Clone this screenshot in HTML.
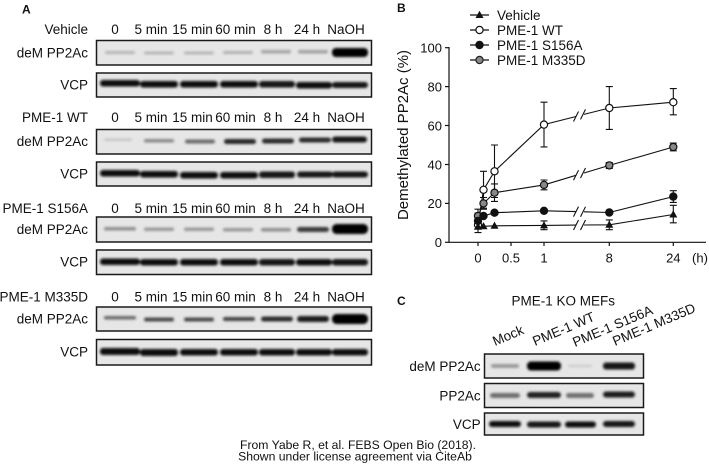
<!DOCTYPE html>
<html><head><meta charset="utf-8"><style>
html,body{margin:0;padding:0;background:#fff;}
svg{display:block;}
text{font-family:"Liberation Sans",Arial,sans-serif;fill:#111;}
</style></head><body>
<svg width="709" height="468" viewBox="0 0 709 468" xmlns="http://www.w3.org/2000/svg">
<defs>
<filter id="bl" x="-20%" y="-100%" width="140%" height="300%"><feGaussianBlur stdDeviation="1.2"/></filter>
</defs>
<rect width="709" height="468" fill="#fff"/>

<!-- Panel A -->
<text x="22" y="13.5" font-size="12" font-weight="bold">A</text>
<g font-size="13.5">
<g text-anchor="end">
<text x="88" y="34">Vehicle</text>
<text x="88" y="57.5">deM PP2Ac</text>
<text x="88" y="89.5">VCP</text>
<text x="88" y="122">PME-1 WT</text>
<text x="88" y="146">deM PP2Ac</text>
<text x="88" y="178.5">VCP</text>
<text x="88" y="213">PME-1 S156A</text>
<text x="88" y="234">deM PP2Ac</text>
<text x="88" y="266.5">VCP</text>
<text x="88" y="301.5">PME-1 M335D</text>
<text x="88" y="323.5">deM PP2Ac</text>
<text x="88" y="356.5">VCP</text>
</g>
<g text-anchor="middle">
<g id="tl">
<text x="115" y="34">0</text><text x="151" y="34">5 min</text><text x="192.5" y="34">15 min</text><text x="235.5" y="34">60 min</text><text x="273" y="34">8 h</text><text x="307" y="34">24 h</text><text x="346" y="34">NaOH</text>
</g>
<use href="#tl" y="88"/>
<use href="#tl" y="179"/>
<use href="#tl" y="267.5"/>
</g>
</g>

<!-- blot boxes A -->
<g fill="#e6e6e6" stroke="#1a1a1a" stroke-width="1.5">
<rect x="96.5" y="40.5" width="275" height="24.5"/>
<rect x="96.5" y="73" width="275" height="24"/>
<rect x="96.5" y="129.5" width="275" height="24.5"/>
<rect x="96.5" y="162" width="275" height="24"/>
<rect x="96.5" y="217" width="275" height="25"/>
<rect x="96.5" y="250" width="275" height="24.5"/>
<rect x="96.5" y="307" width="275" height="24"/>
<rect x="96.5" y="339.5" width="275" height="25.5"/>
</g>
<g filter="url(#bl)">
<!-- vehicle deM -->
<rect x="105" y="51" width="30" height="3" rx="1.5" fill="#b5b5b5"/>
<rect x="144" y="51.5" width="30" height="3" rx="1.5" fill="#b5b5b5"/>
<rect x="184" y="51.5" width="30" height="3" rx="1.5" fill="#b5b5b5"/>
<rect x="223" y="51" width="30" height="3" rx="1.5" fill="#b0b0b0"/>
<rect x="261" y="50" width="30" height="3.5" rx="1.5" fill="#a5a5a5"/>
<rect x="298" y="50" width="30" height="3.5" rx="1.5" fill="#a0a0a0"/>
<rect x="332" y="48" width="36" height="9" rx="4" fill="#060606"/>
<!-- VCP 1 -->
<rect x="100" y="80" width="40" height="6.5" rx="3" fill="#111"/>
<rect x="140" y="81" width="38" height="6.5" rx="3" fill="#111"/>
<rect x="180" y="81" width="38" height="6.5" rx="3" fill="#111"/>
<rect x="220" y="81" width="38" height="6.5" rx="3" fill="#111"/>
<rect x="259" y="81" width="36" height="6.5" rx="3" fill="#141414"/>
<rect x="296" y="82" width="36" height="6.5" rx="3" fill="#111"/>
<rect x="332" y="82" width="36" height="6" rx="3" fill="#151515"/>
<!-- WT deM -->
<rect x="104" y="138.5" width="28" height="2.5" rx="1.2" fill="#c5c5c5"/>
<rect x="144" y="139" width="30" height="3.5" rx="1.5" fill="#8a8a8a"/>
<rect x="185" y="139.5" width="30" height="4" rx="2" fill="#6a6a6a"/>
<rect x="224" y="139" width="32" height="5" rx="2.5" fill="#252525"/>
<rect x="262" y="138.5" width="32" height="5" rx="2.5" fill="#2a2a2a"/>
<rect x="299" y="137.5" width="32" height="5" rx="2.5" fill="#2a2a2a"/>
<rect x="332" y="136.5" width="35" height="6" rx="3" fill="#151515"/>
<!-- WT VCP -->
<rect x="100" y="170" width="40" height="6.5" rx="3" fill="#111"/>
<rect x="140" y="171" width="38" height="6.5" rx="3" fill="#111"/>
<rect x="180" y="172" width="38" height="6.5" rx="3" fill="#111"/>
<rect x="220" y="172" width="38" height="6.5" rx="3" fill="#111"/>
<rect x="259" y="171.5" width="36" height="6.5" rx="3" fill="#141414"/>
<rect x="297" y="171.5" width="36" height="6" rx="3" fill="#151515"/>
<rect x="332" y="171.5" width="36" height="6" rx="3" fill="#151515"/>
<!-- S156A deM -->
<rect x="104" y="227" width="32" height="3.5" rx="1.5" fill="#8f8f8f"/>
<rect x="144" y="227.5" width="30" height="3.5" rx="1.5" fill="#999"/>
<rect x="184" y="227.5" width="30" height="3.5" rx="1.5" fill="#999"/>
<rect x="223" y="228" width="30" height="3.5" rx="1.5" fill="#999"/>
<rect x="261" y="228" width="30" height="3.5" rx="1.5" fill="#8e8e8e"/>
<rect x="297" y="227" width="32" height="5" rx="2.5" fill="#3a3a3a"/>
<rect x="332" y="224" width="36" height="10" rx="4.5" fill="#050505"/>
<!-- S156A VCP -->
<rect x="100" y="258.5" width="40" height="6.5" rx="3" fill="#111"/>
<rect x="140" y="259" width="38" height="6.5" rx="3" fill="#111"/>
<rect x="180" y="259" width="38" height="6.5" rx="3" fill="#111"/>
<rect x="220" y="259" width="38" height="6.5" rx="3" fill="#111"/>
<rect x="259" y="259" width="36" height="6.5" rx="3" fill="#141414"/>
<rect x="296" y="259" width="36" height="6.5" rx="3" fill="#111"/>
<rect x="332" y="259" width="36" height="6.5" rx="3" fill="#141414"/>
<!-- M335D deM -->
<rect x="104" y="316" width="32" height="3.5" rx="1.5" fill="#6a6a6a"/>
<rect x="144" y="317.5" width="30" height="4" rx="2" fill="#4a4a4a"/>
<rect x="184" y="317.5" width="30" height="4" rx="2" fill="#4a4a4a"/>
<rect x="223" y="317" width="32" height="4" rx="2" fill="#444"/>
<rect x="261" y="316.5" width="32" height="5" rx="2.5" fill="#2e2e2e"/>
<rect x="297" y="316" width="32" height="6" rx="3" fill="#1c1c1c"/>
<rect x="332" y="314" width="36" height="10" rx="4.5" fill="#050505"/>
<!-- M335D VCP -->
<rect x="100" y="348" width="40" height="7" rx="3" fill="#0d0d0d"/>
<rect x="140" y="349" width="38" height="7" rx="3" fill="#111"/>
<rect x="180" y="349" width="38" height="6.5" rx="3" fill="#111"/>
<rect x="220" y="349" width="38" height="6.5" rx="3" fill="#111"/>
<rect x="259" y="349" width="36" height="6.5" rx="3" fill="#111"/>
<rect x="296" y="349" width="36" height="6.5" rx="3" fill="#111"/>
<rect x="332" y="349" width="36" height="6.5" rx="3" fill="#111"/>
</g>

<!-- Panel B -->
<text x="397" y="12" font-size="12" font-weight="bold">B</text>
<g stroke="#111" stroke-width="1.2" fill="none">
<line x1="449" y1="47" x2="449" y2="242.3"/>
<line x1="449" y1="242.3" x2="706" y2="242.3"/>
<line x1="445" y1="47.7" x2="449" y2="47.7"/>
<line x1="445" y1="86.6" x2="449" y2="86.6"/>
<line x1="445" y1="125.5" x2="449" y2="125.5"/>
<line x1="445" y1="164.5" x2="449" y2="164.5"/>
<line x1="445" y1="203.4" x2="449" y2="203.4"/>
<line x1="445" y1="242.3" x2="449" y2="242.3"/>
<line x1="478" y1="242.3" x2="478" y2="246"/>
<line x1="511" y1="242.3" x2="511" y2="246"/>
<line x1="544" y1="242.3" x2="544" y2="246"/>
<line x1="609.3" y1="242.3" x2="609.3" y2="246"/>
<line x1="673.3" y1="242.3" x2="673.3" y2="246"/>
</g>
<g font-size="13" text-anchor="end">
<text x="442" y="52.5">100</text>
<text x="442" y="91.4">80</text>
<text x="442" y="130.3">60</text>
<text x="442" y="169.3">40</text>
<text x="442" y="208.2">20</text>
<text x="442" y="247.1">0</text>
</g>
<g font-size="13" text-anchor="middle">
<text x="478" y="262.5">0</text>
<text x="511" y="262.5">0.5</text>
<text x="544" y="262.5">1</text>
<text x="609.3" y="262.5">8</text>
<text x="673.3" y="262.5">24</text>
<text x="700" y="262.5">(h)</text>
</g>
<text transform="translate(408,135) rotate(-90)" font-size="15" text-anchor="middle">Demethylated PP2Ac (%)</text>

<!-- legend -->
<g stroke="#111" stroke-width="1.2">
<line x1="470" y1="15" x2="489" y2="15"/>
<line x1="470" y1="30" x2="489" y2="30"/>
<line x1="470" y1="45" x2="489" y2="45"/>
<line x1="470" y1="60" x2="489" y2="60"/>
</g>
<polygon points="479.5,10.8 475.5,18 483.5,18" fill="#111"/>
<circle cx="479.5" cy="30" r="3.6" fill="#fff" stroke="#111" stroke-width="1.2"/>
<circle cx="479.5" cy="45" r="3.6" fill="#111" stroke="#111" stroke-width="1.2"/>
<circle cx="479.5" cy="60" r="3.6" fill="#888" stroke="#222" stroke-width="1.2"/>
<g font-size="13.5">
<text x="497" y="19.8">Vehicle</text>
<text x="497" y="34.8">PME-1 WT</text>
<text x="497" y="49.8">PME-1 S156A</text>
<text x="497" y="64.8">PME-1 M335D</text>
</g>

<!-- error bars -->
<g stroke="#111" stroke-width="1.1" fill="none">
<path d="M483.5,171.3V208.2M480,171.3h7M480,208.2h7"/>
<path d="M494.5,145V197.5M491,145h7M491,197.5h7"/>
<path d="M544,102.2V146.9M540.5,102.2h7M540.5,146.9h7"/>
<path d="M609.3,86.6V129.4M605.8,86.6h7M605.8,129.4h7"/>
<path d="M673.3,88.6V114.8M669.8,88.6h7M669.8,114.8h7"/>
<path d="M478,209.2V224.8M474.5,209.2h7M474.5,224.8h7"/>
<path d="M483.5,197.5V209.2M480,197.5h7M480,209.2h7"/>
<path d="M494.5,183.9V201.4M491,183.9h7M491,201.4h7"/>
<path d="M544,180V189.8M540.5,180h7M540.5,189.8h7"/>
<path d="M609.3,162.5V168.4M605.8,162.5h7M605.8,168.4h7"/>
<path d="M673.3,143.1V150.8M669.8,143.1h7M669.8,150.8h7"/>
<path d="M478,213.1V228.7M474.5,213.1h7M474.5,228.7h7"/>
<path d="M673.3,190.7V202.4M669.8,190.7h7M669.8,202.4h7"/>
<path d="M478,220.9V232.6M474.5,220.9h7M474.5,232.6h7"/>
<path d="M544,220.9V229.7M540.5,220.9h7M540.5,229.7h7"/>
<path d="M609.3,219.9V229.7M605.8,219.9h7M605.8,229.7h7"/>
<path d="M673.3,205.3V222.8M669.8,205.3h7M669.8,222.8h7"/>
</g>

<!-- lines -->
<g stroke="#111" stroke-width="1.1" fill="none">
<polyline points="478,226.7 483.5,226.3 494.5,225.8 544,225.4 576,225.1"/>
<polyline points="584,225 609.3,224.8 673.3,214.5"/>
<path d="M573.5,230L578.5,220M580.5,230L585.5,220"/>
<polyline points="478,220.9 483.5,216 494.5,212.7 544,210.8 576,211.6"/>
<polyline points="584,211.8 609.3,212.5 673.3,196.6"/>
<path d="M573.5,216.6L578.5,206.6M580.5,216.8L585.5,206.8"/>
<polyline points="478,216 483.5,203.4 494.5,192.7 544,184.9 576,175.3"/>
<polyline points="584,173 609.3,165.4 673.3,147"/>
<path d="M573.5,180.3L578.5,170.3M580.5,178L585.5,168"/>
<polyline points="478,224.8 483.5,189.8 494.5,171.3 544,124.6 576,116.5"/>
<polyline points="584,114.4 609.3,108 673.3,102.2"/>
<path d="M573.5,121.5L578.5,111.5M580.5,119.4L585.5,109.4"/>
</g>

<!-- markers -->
<g stroke="#111" stroke-width="1.2">
<circle cx="478" cy="224.8" r="3.6" fill="#fff"/>
<circle cx="478" cy="216" r="3.6" fill="#888"/>
<circle cx="478" cy="220.9" r="3.6" fill="#111"/>
<circle cx="483.5" cy="189.8" r="3.6" fill="#fff"/>
<circle cx="494.5" cy="171.3" r="3.6" fill="#fff"/>
<circle cx="544" cy="124.6" r="3.6" fill="#fff"/>
<circle cx="609.3" cy="108" r="3.6" fill="#fff"/>
<circle cx="673.3" cy="102.2" r="3.6" fill="#fff"/>
<circle cx="483.5" cy="203.4" r="3.6" fill="#888"/>
<circle cx="494.5" cy="192.7" r="3.6" fill="#888"/>
<circle cx="544" cy="184.9" r="3.6" fill="#888"/>
<circle cx="609.3" cy="165.4" r="3.6" fill="#888"/>
<circle cx="673.3" cy="147" r="3.6" fill="#888"/>
<circle cx="483.5" cy="216" r="3.6" fill="#111"/>
<circle cx="494.5" cy="212.7" r="3.6" fill="#111"/>
<circle cx="544" cy="210.8" r="3.6" fill="#111"/>
<circle cx="609.3" cy="212.5" r="3.6" fill="#111"/>
<circle cx="673.3" cy="196.6" r="3.6" fill="#111"/>
</g>
<g fill="#111">
<polygon points="478,222.5 474,229.7 482,229.7"/>
<polygon points="483.5,222.1 479.5,229.3 487.5,229.3"/>
<polygon points="494.5,221.6 490.5,228.8 498.5,228.8"/>
<polygon points="544,221.2 540,228.4 548,228.4"/>
<polygon points="609.3,220.6 605.3,227.8 613.3,227.8"/>
<polygon points="673.3,210.3 669.3,217.5 677.3,217.5"/>
</g>

<!-- Panel C -->
<text x="397" y="305" font-size="12" font-weight="bold">C</text>
<text x="563.3" y="305.5" font-size="13.5" text-anchor="middle">PME-1 KO MEFs</text>
<g font-size="13.5">
<text transform="translate(495,346) rotate(-23)">Mock</text>
<text transform="translate(535,346) rotate(-23)">PME-1 WT</text>
<text transform="translate(575,347) rotate(-23)">PME-1 S156A</text>
<text transform="translate(615,346) rotate(-23)">PME-1 M335D</text>
</g>
<g font-size="13.5" text-anchor="end">
<text x="480.7" y="371">deM PP2Ac</text>
<text x="480.7" y="400.5">PP2Ac</text>
<text x="480.7" y="429">VCP</text>
</g>
<g fill="#e6e6e6" stroke="#1a1a1a" stroke-width="1.5">
<rect x="484.5" y="354" width="159" height="24"/>
<rect x="484.5" y="383.5" width="159" height="24"/>
<rect x="484.5" y="413" width="159" height="22"/>
</g>
<g filter="url(#bl)">
<rect x="491" y="364" width="28" height="4" rx="2" fill="#9a9a9a"/>
<rect x="527" y="361.5" width="34" height="9" rx="4" fill="#050505"/>
<rect x="568" y="364.5" width="24" height="3" rx="1.5" fill="#d0d0d0"/>
<rect x="603" y="362.5" width="32" height="7" rx="3" fill="#141414"/>
<rect x="490" y="393" width="30" height="5" rx="2.5" fill="#6e6e6e"/>
<rect x="527" y="392" width="34" height="6" rx="3" fill="#202020"/>
<rect x="566" y="393" width="28" height="5" rx="2.5" fill="#707070"/>
<rect x="603" y="391.5" width="32" height="6" rx="3" fill="#1e1e1e"/>
<rect x="489" y="421" width="32" height="6" rx="3" fill="#111"/>
<rect x="527" y="421.5" width="34" height="6" rx="3" fill="#141414"/>
<rect x="565" y="421.5" width="31" height="6" rx="3" fill="#111"/>
<rect x="603" y="421" width="32" height="6" rx="3" fill="#151515"/>
</g>

<!-- footer -->
<g font-size="12.2" text-anchor="middle">
<text x="358" y="449">From Yabe R, et al. FEBS Open Bio (2018).</text>
<text x="355" y="460.5">Shown under license agreement via CiteAb</text>
</g>
</svg>
</body></html>
